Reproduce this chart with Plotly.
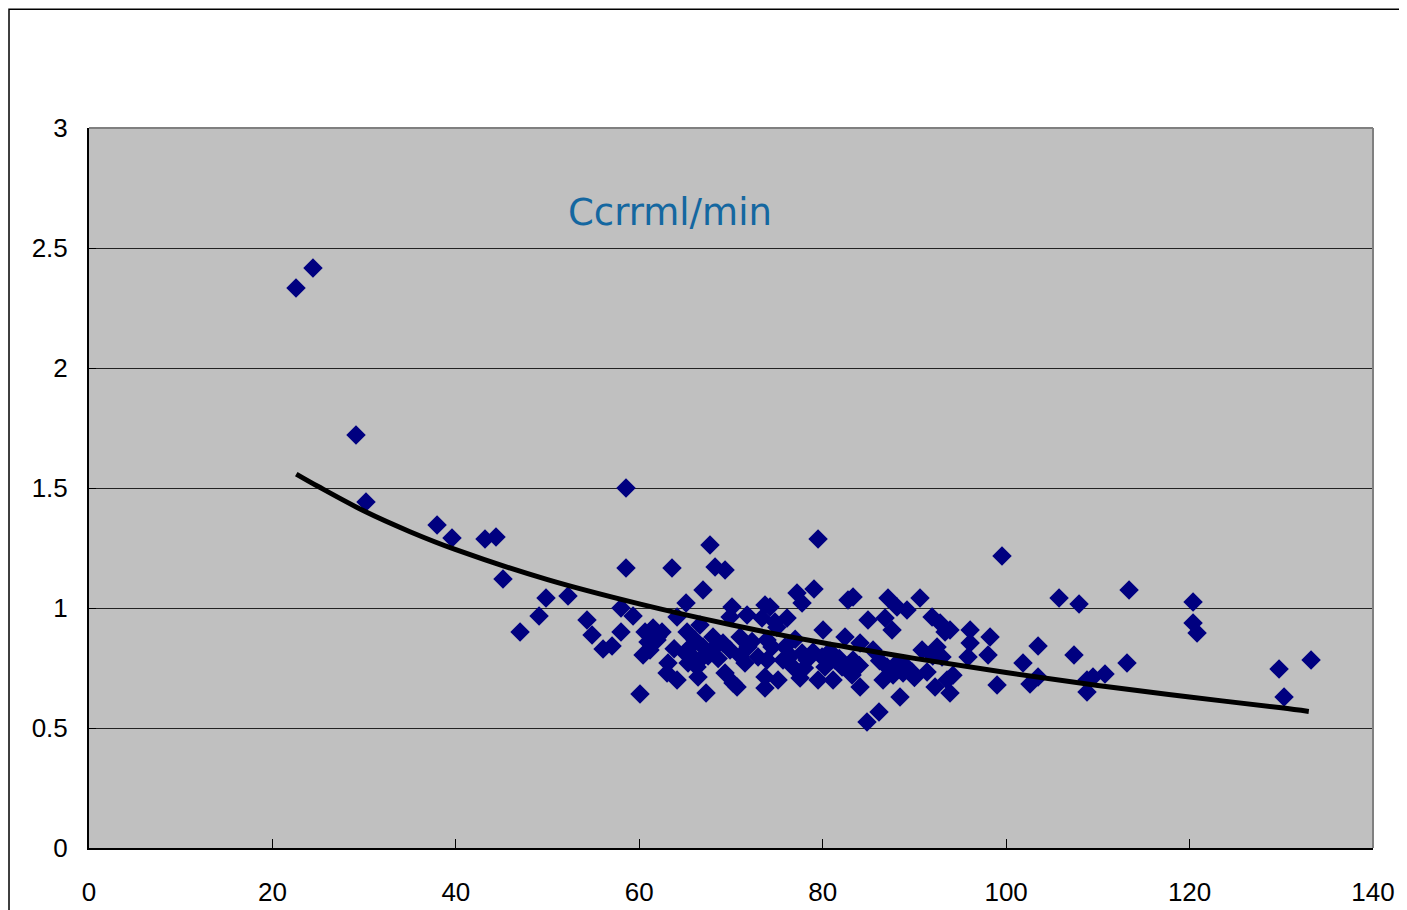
import plotly.graph_objects as go

# Scatter data (Ccr ml/min vs value)
ccr_x = [22.57, 24.42, 29.11, 30.20, 37.95, 39.58, 43.18, 44.38, 45.14, 49.83,
         52.23, 49.07, 47.00, 54.30, 54.85, 56.05, 57.03, 58.01, 58.01, 58.55,
         58.55, 59.32, 60.08, 63.57, 68.26, 69.35, 66.95, 67.71, 65.10, 64.12,
         66.62, 70.11, 69.90, 60.63, 61.50, 62.48, 60.95, 61.93, 60.41, 61.17,
         63.13, 63.03, 64.12, 65.21, 66.08, 64.99, 65.86, 66.95, 66.62, 65.32,
         66.30, 68.04, 67.93, 69.13, 70.99, 69.90, 66.41, 69.35, 70.22, 67.28,
         79.05, 77.20, 77.75, 73.71, 74.26, 82.76, 83.31, 79.49, 71.75, 73.38,
         74.80, 76.11, 80.04, 84.94, 82.43, 84.07, 71.86, 71.53, 72.95, 73.93,
         73.93, 74.47, 75.89, 75.67, 76.76, 77.75, 78.29, 78.95, 79.93, 80.25,
         81.34, 82.11, 83.31, 83.20, 73.71, 75.13, 73.71, 77.53, 79.49, 81.13,
         84.07, 70.66, 84.83, 87.12, 88.10, 89.19, 90.61, 86.80, 87.56, 91.92,
         92.80, 93.88, 93.34, 96.07, 96.07, 95.85, 98.25, 98.03, 85.49, 90.83,
         92.47, 93.01, 87.01, 88.10, 86.58, 87.67, 88.76, 89.74, 91.38, 92.25,
         93.56, 93.88, 88.43, 99.01, 86.14, 99.55, 105.77, 107.95, 113.40, 103.48,
         101.84, 107.40, 113.18, 102.60, 103.48, 108.82, 109.47, 110.78, 108.82, 120.38,
         120.38, 120.82, 129.76, 130.30, 133.25,
         62.00, 63.80, 65.60, 67.50, 68.60, 71.00, 72.30, 76.50, 78.00, 80.80,
         81.80, 86.20, 89.00, 90.00, 94.20, 92.00, 75.00, 77.00, 84.00, 87.60]
ccr_y = [2.333, 2.417, 1.721, 1.442, 1.346, 1.292, 1.288, 1.296, 1.121, 1.042,
         1.050, 0.967, 0.900, 0.950, 0.888, 0.829, 0.842, 1.000, 0.900, 1.167,
         1.500, 0.967, 0.642, 1.167, 1.171, 1.158, 1.075, 1.263, 1.021, 0.963,
         0.929, 1.004, 0.963, 0.900, 0.917, 0.900, 0.858, 0.867, 0.804, 0.825,
         0.771, 0.729, 0.700, 0.900, 0.867, 0.813, 0.796, 0.838, 0.783, 0.771,
         0.754, 0.879, 0.825, 0.854, 0.879, 0.825, 0.713, 0.729, 0.688, 0.646,
         1.079, 1.063, 1.021, 1.013, 1.004, 1.033, 1.046, 1.288, 0.971, 0.958,
         0.942, 0.958, 0.908, 0.950, 0.879, 0.854, 0.838, 0.771, 0.796, 0.783,
         0.867, 0.838, 0.838, 0.783, 0.754, 0.813, 0.783, 0.817, 0.796, 0.754,
         0.783, 0.754, 0.783, 0.721, 0.713, 0.700, 0.667, 0.708, 0.700, 0.700,
         0.671, 0.671, 0.525, 1.042, 1.004, 0.992, 1.042, 0.958, 0.908, 0.963,
         0.938, 0.908, 0.900, 0.908, 0.854, 0.796, 0.879, 0.804, 0.825, 0.825,
         0.838, 0.796, 0.754, 0.771, 0.700, 0.721, 0.729, 0.733, 0.733, 0.671,
         0.700, 0.646, 0.629, 0.679, 0.567, 1.217, 1.042, 1.017, 1.075, 0.842,
         0.771, 0.804, 0.771, 0.683, 0.713, 0.700, 0.713, 0.725, 0.650, 1.025,
         0.938, 0.896, 0.746, 0.629, 0.783,
         0.880, 0.830, 0.840, 0.800, 0.790, 0.800, 0.860, 0.800, 0.750, 0.820,
         0.790, 0.780, 0.760, 0.710, 0.720, 0.800, 0.920, 0.870, 0.760, 0.730]

# Trend line values
trend_x = [22.6, 25, 30, 35, 40, 50, 60, 70, 80, 90, 100, 110, 120, 130, 133]
trend_y = [1.558, 1.506, 1.404, 1.318, 1.243, 1.118, 1.017, 0.930, 0.855,
           0.790, 0.731, 0.677, 0.629, 0.584, 0.569]

x_ticks = [0, 20, 40, 60, 80, 100, 120, 140]
y_ticks = [0, 0.5, 1, 1.5, 2, 2.5, 3]

title_text = "Ccrrml/min"

fig = go.Figure()
fig.add_trace(go.Scatter(
    x=ccr_x, y=ccr_y, mode="markers",
    marker=dict(symbol="diamond", size=15, color="#000080", line=dict(width=0)),
    showlegend=False, hoverinfo="x+y"))
fig.add_trace(go.Scatter(
    x=trend_x, y=trend_y, mode="lines",
    line=dict(color="#000000", width=5, shape="spline"),
    showlegend=False, hoverinfo="skip"))

tick_font = dict(family="Liberation Sans, Arial, sans-serif", size=26, color="#000000")

fig.update_layout(
    width=1407, height=910,
    margin=dict(l=81, r=42, t=120, b=70, autoexpand=False),
    paper_bgcolor="#FFFFFF",
    plot_bgcolor="#C0C0C0",
    xaxis=dict(range=[0, 140], tickvals=x_ticks, ticks="inside", ticklen=9,
               tickcolor="#000000", tickwidth=1, showgrid=False,
               showline=True, linecolor="#000000", linewidth=2,
               zeroline=False, tickfont=tick_font, ticklabelstandoff=20,
               automargin=False),
    yaxis=dict(range=[0, 3], tickvals=y_ticks, ticks="inside", ticklen=7,
               tickcolor="#000000", tickwidth=1, showgrid=True,
               gridcolor="#222222", gridwidth=1,
               showline=True, linecolor="#000000", linewidth=2,
               zeroline=False, tickfont=tick_font, ticklabelstandoff=14,
               automargin=False),
    annotations=[dict(x=63.4, y=2.646, xref="x", yref="y", text=title_text,
                      showarrow=False,
                      font=dict(family="DejaVu Sans, Verdana, sans-serif",
                                size=37, color="#1467A0"))],
    shapes=[
        # plot area top and right border (grey)
        dict(type="line", xref="paper", yref="paper", x0=0, x1=1, y0=1, y1=1,
             line=dict(color="#808080", width=2), layer="above"),
        dict(type="line", xref="paper", yref="paper", x0=1, x1=1, y0=0, y1=1,
             line=dict(color="#808080", width=2), layer="above"),
        # outer chart border
        dict(type="rect", xref="paper", yref="paper",
             x0=-0.0623, x1=1.06, y0=-0.13, y1=1.165,
             line=dict(color="#000000", width=1.5), layer="below"),
    ],
)

fig.write_html("out.html")
